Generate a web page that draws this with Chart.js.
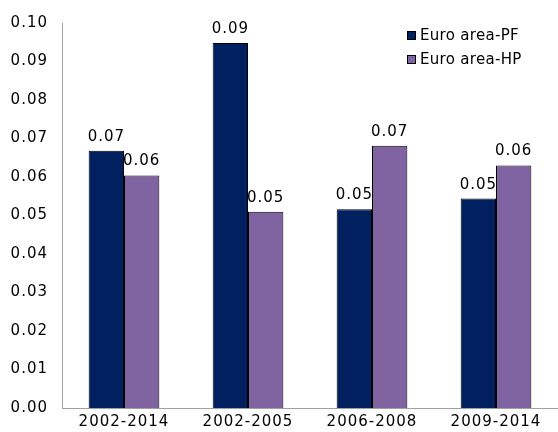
<!DOCTYPE html>
<html>
<head>
<meta charset="utf-8">
<script src="https://cdn.jsdelivr.net/npm/chart.js@4.4.1/dist/chart.umd.min.js"></script>
<style>
  html, body { margin: 0; padding: 0; background: #fff; }
  #wrap { width: 558px; height: 432px; }
</style>
</head>
<body>
<div id="wrap"><canvas id="chart" width="558" height="432"></canvas></div>
<script>
const categories = ["2002-2014", "2002-2005", "2006-2008", "2009-2014"];
const pfValues = [0.0668, 0.0948, 0.0516, 0.0544];
const hpValues = [0.0604, 0.0510, 0.0681, 0.0630];
const seriesNames = ["Euro area-PF", "Euro area-HP"];
const seriesColors = ["#002060", "#8064A2"];

const FONT = "'DejaVu Sans', Verdana, sans-serif";

// the reference text is a little wider than DejaVu, so space the letters out
const spacing = {
  id: "spacing",
  beforeDraw(chart) {
    chart.ctx.letterSpacing = "1px";
  }
};

// value labels above each bar
const valueLabels = {
  id: "valueLabels",
  afterDatasetsDraw(chart) {
    const ctx = chart.ctx;
    ctx.save();
    ctx.letterSpacing = "1px";
    ctx.font = "15px " + FONT;
    ctx.fillStyle = "#000";
    ctx.textAlign = "center";
    ctx.textBaseline = "alphabetic";
    chart.data.datasets.forEach((ds, i) => {
      chart.getDatasetMeta(i).data.forEach((bar, j) => {
        ctx.fillText(ds.data[j].toFixed(2), bar.x, bar.y - 10);
      });
    });
    ctx.restore();
  }
};

// legend drawn inside the plot, top right
const boxLegend = {
  id: "boxLegend",
  afterDraw(chart) {
    const ctx = chart.ctx;
    ctx.save();
    ctx.letterSpacing = "0.3px";
    ctx.font = "15px " + FONT;
    ctx.textBaseline = "middle";
    chart.data.datasets.forEach((ds, i) => {
      const y = 35 + i * 24;
      ctx.fillStyle = ds.backgroundColor;
      ctx.fillRect(407, y - 4, 9, 9);
      ctx.strokeStyle = "#000";
      ctx.lineWidth = 1;
      ctx.strokeRect(407.5, y - 3.5, 8, 8);
      ctx.fillStyle = "#000";
      ctx.fillText(ds.label, 420, y + 1);
    });
    ctx.restore();
  }
};

new Chart(document.getElementById("chart"), {
  type: "bar",
  data: {
    labels: categories,
    datasets: [
      {
        label: seriesNames[0],
        data: pfValues,
        backgroundColor: seriesColors[0],
        borderColor: "#000",
        borderWidth: 1,
      },
      {
        label: seriesNames[1],
        data: hpValues,
        backgroundColor: seriesColors[1],
        borderColor: "#000",
        borderWidth: 1,
      },
    ],
  },
  options: {
    responsive: false,
    animation: false,
    layout: { padding: { top: 22, left: 0, right: 0, bottom: 0 } },
    datasets: {
      bar: { categoryPercentage: 0.57, barPercentage: 1 },
    },
    plugins: {
      legend: { display: false },
      tooltip: { enabled: false },
    },
    scales: {
      x: {
        grid: { display: false, drawTicks: false },
        border: { display: true, color: "#a0a0a0", width: 1 },
        ticks: { color: "#000", font: { family: FONT, size: 15 }, padding: 5 },
        afterFit: (scale) => { scale.height = 24; },
      },
      y: {
        min: 0,
        max: 0.1,
        grid: { display: false, drawTicks: false },
        border: { display: true, color: "#a0a0a0", width: 1 },
        ticks: {
          stepSize: 0.01,
          color: "#000",
          padding: 14,
          font: { family: FONT, size: 15 },
          callback: (v) => v.toFixed(2),
        },
        afterFit: (scale) => { scale.width = 62; },
      },
    },
  },
  plugins: [spacing, valueLabels, boxLegend],
});
</script>
</body>
</html>
